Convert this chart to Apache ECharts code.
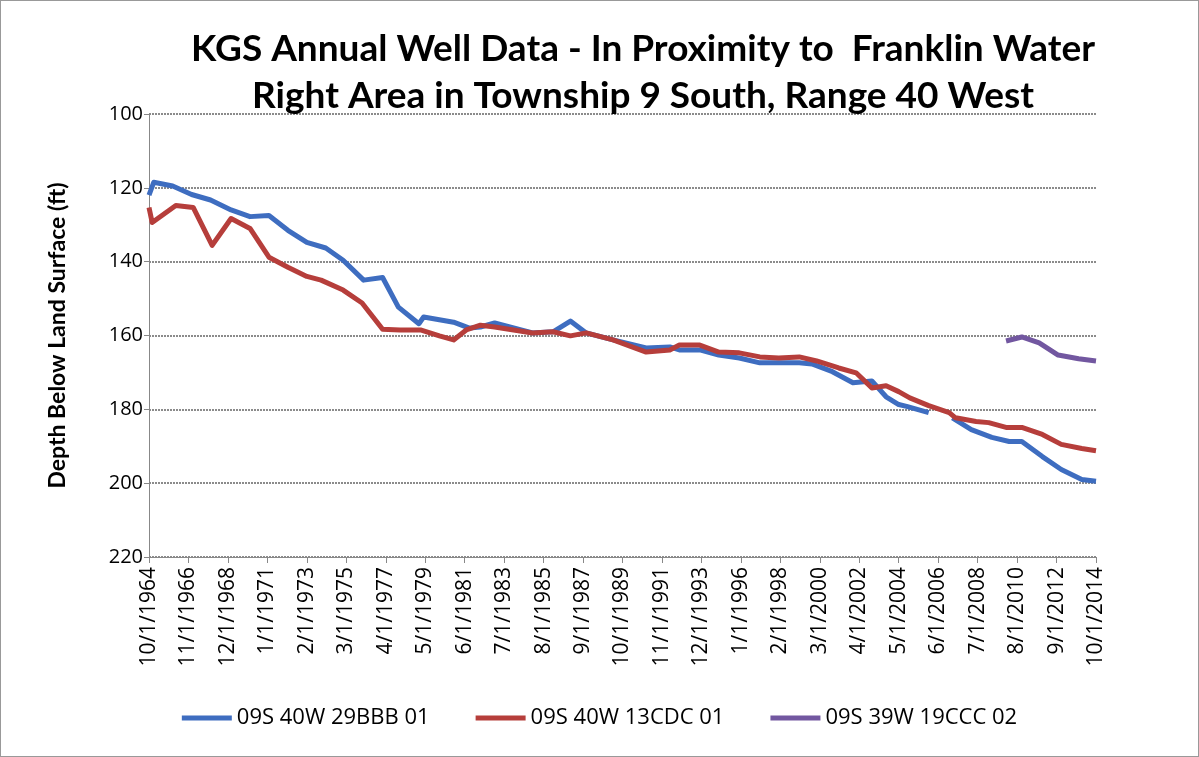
<!DOCTYPE html>
<html>
<head>
<meta charset="utf-8">
<script src="https://cdn.jsdelivr.net/npm/echarts@6/dist/echarts.min.js"></script>
<style>
  html, body { margin: 0; padding: 0; background: #fff; }
  #main { width: 1197px; height: 755px; border: 1px solid #999; }
</style>
</head>
<body>
<div id="main"></div>
<script>
// dates (YYYY-MM), depths in ft below land surface
var blueDates = ['1964-10','1965-01','1966-01','1967-01','1968-01','1969-02','1970-02','1971-02','1972-02','1973-02',
  '1974-02','1975-01','1976-02','1977-02','1977-12','1979-01','1979-04','1980-11','1981-09','1982-04',
  '1983-01','1985-01','1986-02','1987-01','1987-11','1989-04','1991-01','1992-04','1992-10','1993-11',
  '1994-11','1995-12','1997-01','1998-01','1999-02','1999-10','2000-11','2001-12','2002-12','2003-09',
  '2004-05','2004-10','2005-12','2006-06','2007-03','2008-03','2009-04','2010-03','2010-11','2011-12',
  '2012-12','2014-01','2014-10'];
var blueDepth = [122,118.5,119.5,121.8,123.3,126,127.8,127.5,131.5,134.8,
  136.3,139.6,145,144.3,152.3,156.8,155,156.4,158,157.7,
  156.6,159.3,159,156.1,159.3,161.2,163.4,163.1,163.9,163.9,
  165.3,166.1,167.4,167.4,167.4,167.7,169.8,172.8,172.3,176.6,
  178.7,179.2,180.9,null,182.3,185.5,187.6,188.7,188.7,192.8,
  196.3,199,199.5];

var redDates = ['1964-10','1964-12','1966-03','1967-02','1968-02','1969-02','1970-02','1971-02','1972-02','1973-02',
  '1973-11','1975-01','1976-01','1977-02','1978-01','1979-02','1980-02','1980-11','1981-07','1982-04',
  '1983-01','1984-01','1985-01','1986-02','1987-01','1987-11','1989-04','1991-01','1992-04','1992-10',
  '1993-11','1994-11','1995-12','1997-01','1998-01','1999-02','2000-01','2001-03','2002-02','2002-12',
  '2003-09','2004-05','2004-12','2005-12','2007-01','2007-05','2008-06','2009-02','2010-01','2010-11',
  '2011-12','2012-12','2014-01','2014-10'];
var redDepth = [125.3,129.4,124.8,125.3,135.6,128.3,131,138.8,141.5,144,
  145,147.7,151.2,158.3,158.5,158.5,160.1,161.2,158.5,157.2,
  157.7,158.5,159.3,159,160.1,159.3,161.2,164.5,163.9,162.6,
  162.6,164.5,164.7,165.8,166.1,165.8,166.9,168.8,170.1,174.2,
  173.6,175.2,176.9,179,180.9,182.3,183.3,183.6,184.9,184.9,
  186.8,189.5,190.6,191.2];

var purpleDates = ['2010-01','2010-11','2011-10','2012-10','2013-11','2014-10'];
var purpleDepth = [161.5,160.4,162,165.3,166.3,166.9];

var seriesNames = ['09S 40W 29BBB 01','09S 40W 13CDC 01','09S 39W 19CCC 02'];
var seriesColors = ['#3E6DC0','#B63E3B','#7257A0'];

// months since Oct 1964
function toMonth(d) {
  var p = d.split('-');
  return (parseInt(p[0], 10) - 1964) * 12 + (parseInt(p[1], 10) - 10);
}
function pairs(dates, depths) {
  return dates.map(function (d, i) {
    return [toMonth(d), depths[i] == null ? '-' : depths[i]];
  });
}
function monthLabel(m) {
  var t = 9 + m;
  return (t % 12 + 1) + '/1/' + (1964 + Math.floor(t / 12));
}

var font = 'Lato, "Open Sans", sans-serif';
var tickFont = '"Open Sans", sans-serif';
var myChart = echarts.init(document.getElementById('main'));
var lists = [[blueDates, blueDepth], [redDates, redDepth], [purpleDates, purpleDepth]];

var option = {
  animation: false,
  title: {
    text: 'KGS Annual Well Data - In Proximity to  Franklin Water\nRight Area in Township 9 South, Range 40 West',
    left: 637,
    top: 20,
    textAlign: 'center',
    textStyle: { fontFamily: font, fontSize: 37, fontWeight: 'bold', color: '#000', lineHeight: 47 }
  },
  legend: {
    bottom: 22,
    left: 'center',
    itemWidth: 50,
    itemHeight: 5,
    itemGap: 46,
    icon: 'rect',
    textStyle: { fontFamily: tickFont, fontSize: 22, color: '#000' },
    data: seriesNames
  },
  grid: { left: 148, right: 102, top: 113, bottom: 199, containLabel: false },
  xAxis: {
    type: 'value',
    min: 0,
    max: 600,
    interval: 25,
    axisLine: { onZero: false, lineStyle: { color: '#888', width: 1 } },
    axisTick: { show: true, length: 6, lineStyle: { color: '#888' } },
    splitLine: { show: false },
    axisLabel: {
      rotate: 90,
      margin: 10,
      fontFamily: tickFont,
      fontSize: 21,
      color: '#000',
      formatter: function (v) { return monthLabel(v); }
    }
  },
  yAxis: {
    type: 'value',
    inverse: true,
    min: 100,
    max: 220,
    interval: 20,
    name: 'Depth Below Land Surface (ft)',
    nameLocation: 'middle',
    nameGap: 80,
    nameTextStyle: { fontFamily: font, fontSize: 23, fontWeight: 'bold', color: '#000' },
    axisLine: { show: true, lineStyle: { color: '#888' } },
    axisTick: { show: true, length: 5, lineStyle: { color: '#888' } },
    splitLine: { lineStyle: { color: '#666', width: 1.5, type: [2, 1] } },
    axisLabel: { fontFamily: tickFont, fontSize: 20, color: '#000', margin: 6 }
  },
  series: lists.map(function (l, i) {
    return {
      name: seriesNames[i],
      type: 'line',
      data: pairs(l[0], l[1]),
      showSymbol: false,
      symbol: 'none',
      connectNulls: false,
      color: seriesColors[i],
      lineStyle: { width: 5, color: seriesColors[i], join: 'round' }
    };
  })
};
myChart.setOption(option);
</script>
</body>
</html>
